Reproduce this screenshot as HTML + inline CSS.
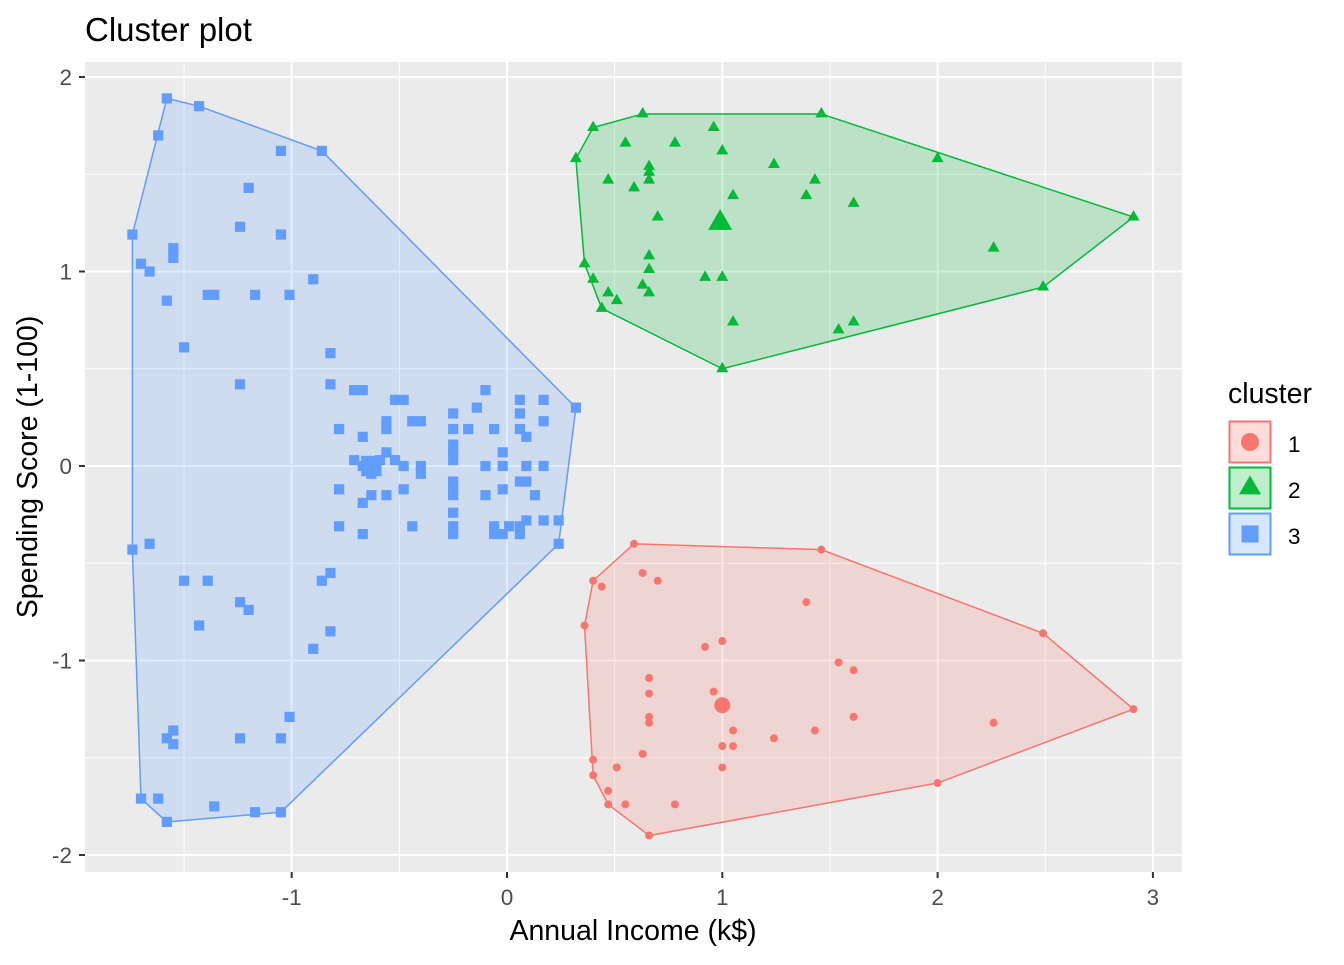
<!DOCTYPE html>
<html><head><meta charset="utf-8"><style>
body{margin:0;background:#fff}
svg text{font-family:"Liberation Sans",Arial,sans-serif}
</style></head><body>
<svg id="chart" width="1344" height="960">
<text x="85" y="41" font-size="33" fill="#000">Cluster plot</text>
<rect x="85" y="62" width="1097" height="810" fill="#ebebeb"/>
<g id="grid"></g>
<g id="hulls"></g>
<g id="points"></g>
<g id="axes"></g>
<text x="633" y="940" font-size="28.5" text-anchor="middle">Annual Income (k$)</text>
<text transform="translate(37,467) rotate(-90)" font-size="28.5" text-anchor="middle">Spending Score (1-100)</text>
<g id="legend">
<text x="1228" y="403" font-size="28.5">cluster</text>
</g>
</svg>
<script>
const xTicks=[-1,0,1,2,3];
const yTicks=[-2,-1,0,1,2];
const clusters=["1","2","3"];
const colors=["#F8766D","#00BA38","#619CFF"];
const c1x=[0.59,1.46,2.49,2.91,2.00,0.66,0.47,0.40,0.36,0.40,0.44,0.63,0.70,1.00,0.92,1.39,1.54,1.61,1.61,2.26,1.43,1.24,1.05,1.00,1.05,1.00,0.96,0.66,0.66,0.66,0.66,0.63,0.40,0.51,0.47,0.55,0.78];
const c1y=[-0.40,-0.43,-0.86,-1.25,-1.63,-1.90,-1.74,-1.51,-0.82,-0.59,-0.62,-0.55,-0.59,-0.90,-0.93,-0.70,-1.01,-1.05,-1.29,-1.32,-1.36,-1.40,-1.36,-1.44,-1.44,-1.55,-1.16,-1.09,-1.17,-1.29,-1.32,-1.48,-1.59,-1.55,-1.67,-1.74,-1.74];
const c2x=[0.32,0.40,0.63,1.46,2.00,2.91,2.49,1.00,0.44,0.36,0.40,0.47,0.51,0.47,0.55,0.59,0.66,0.66,0.66,0.78,0.70,0.66,0.66,0.63,0.66,0.96,1.00,1.05,0.92,1.00,1.05,1.24,1.39,1.43,1.61,1.54,1.61,2.26];
const c2y=[1.58,1.74,1.81,1.81,1.58,1.28,0.92,0.50,0.81,1.04,0.96,0.89,0.85,1.47,1.66,1.43,1.54,1.51,1.47,1.66,1.28,1.08,1.01,0.93,0.89,1.74,1.62,1.39,0.97,0.97,0.74,1.55,1.39,1.47,1.35,0.70,0.74,1.12];
const c3x=[-1.58,-1.43,-0.86,-1.62,-1.05,-1.20,-1.74,-1.70,-1.66,-1.55,-1.55,-1.24,-1.05,-1.58,-1.39,-1.36,-1.17,-1.01,-0.90,-1.50,-1.24,-0.82,-0.82,-0.71,-0.67,-0.52,-0.48,-0.25,-0.10,-0.14,0.06,0.17,0.32,-0.78,-0.67,-0.56,-0.56,-0.44,-0.40,-0.25,-0.18,-0.06,0.06,0.06,0.17,0.09,-0.71,-0.67,-0.63,-0.59,-0.56,-0.52,-0.48,-0.48,-0.40,-0.25,-0.25,-0.25,-0.02,-0.02,-0.10,0.09,0.17,-0.78,-0.63,-0.67,-0.63,-0.56,-0.40,-0.25,-0.25,-0.25,-0.10,-0.02,0.06,0.09,0.13,-0.78,-0.67,-0.44,-0.25,-0.25,-0.25,-0.06,-0.02,0.01,0.06,0.09,0.17,0.24,0.06,-0.06,0.24,-1.74,-1.66,-1.50,-1.39,-1.43,-1.24,-1.20,-0.86,-0.82,-0.82,-0.90,-1.01,-1.05,-1.24,-1.58,-1.55,-1.55,-1.70,-1.62,-1.58,-1.36,-1.17,-1.05];
const c3y=[1.89,1.85,1.62,1.70,1.62,1.43,1.19,1.04,1.00,1.07,1.12,1.23,1.19,0.85,0.88,0.88,0.88,0.88,0.96,0.61,0.42,0.58,0.42,0.39,0.39,0.34,0.34,0.27,0.39,0.30,0.34,0.34,0.30,0.19,0.15,0.23,0.19,0.23,0.23,0.19,0.19,0.19,0.27,0.19,0.23,0.15,0.03,0,0,0.03,0.07,0.03,0,-0.12,0,0.03,0.11,0.07,0.07,0,0,0,0,-0.12,-0.04,-0.19,-0.15,-0.15,-0.04,-0.08,-0.12,-0.15,-0.15,-0.12,-0.08,-0.08,-0.15,-0.31,-0.35,-0.31,-0.24,-0.31,-0.35,-0.31,-0.35,-0.31,-0.31,-0.28,-0.28,-0.28,-0.35,-0.35,-0.40,-0.43,-0.40,-0.59,-0.59,-0.82,-0.70,-0.74,-0.59,-0.55,-0.85,-0.94,-1.29,-1.40,-1.40,-1.40,-1.36,-1.43,-1.71,-1.71,-1.83,-1.75,-1.78,-1.78];
const centX=[1.00,0.99,-0.63];
const centY=[-1.23,1.25,0.00];

const NS="http://www.w3.org/2000/svg";
const X=v=>507+215.3*v, Y=v=>466-194.5*v;
function mk(tag,attrs,parent){const e=document.createElementNS(NS,tag);for(const k in attrs)e.setAttribute(k,attrs[k]);parent.appendChild(e);return e;}
const grid=document.getElementById('grid'),axes=document.getElementById('axes');
for(let i=0;i<xTicks.length;i++){
  const t=xTicks[i];
  if(i>0){const m=mk('line',{x1:X(t-0.5),x2:X(t-0.5),y1:62,y2:872,stroke:'#fff','stroke-width':1},grid);
  }
  const g=mk('line',{x1:X(t),x2:X(t),y1:62,y2:872,stroke:'#fff','stroke-width':2},grid);
  
  mk('line',{x1:X(t),x2:X(t),y1:872,y2:878,stroke:'#333','stroke-width':2},axes);
  const tx=mk('text',{x:X(t),y:905,'font-size':22.5,'text-anchor':'middle',fill:'#4d4d4d'},axes);tx.textContent=t;
  
}
{const m=mk('line',{x1:X(-1.5),x2:X(-1.5),y1:62,y2:872,stroke:'#fff','stroke-width':1},grid);
}
for(let i=0;i<yTicks.length;i++){
  const t=yTicks[i];
  if(i>0){const m=mk('line',{x1:85,x2:1182,y1:Y(t-0.5),y2:Y(t-0.5),stroke:'#fff','stroke-width':1},grid);
  }
  const g=mk('line',{x1:85,x2:1182,y1:Y(t),y2:Y(t),stroke:'#fff','stroke-width':2},grid);
  
  mk('line',{x1:79,x2:85,y1:Y(t),y2:Y(t),stroke:'#333','stroke-width':2},axes);
  const tx=mk('text',{x:72,y:Y(t)+8,'font-size':22.5,'text-anchor':'end',fill:'#4d4d4d'},axes);tx.textContent=t;
  
}
function hull(xs,ys){
  const p=xs.map((x,i)=>[X(x),Y(ys[i])]).sort((a,b)=>a[0]-b[0]||a[1]-b[1]);
  const cr=(o,a,b)=>(a[0]-o[0])*(b[1]-o[1])-(a[1]-o[1])*(b[0]-o[0]);
  const lo=[],up=[];
  for(const q of p){while(lo.length>=2&&cr(lo[lo.length-2],lo[lo.length-1],q)<=0)lo.pop();lo.push(q);}
  for(const q of p.slice().reverse()){while(up.length>=2&&cr(up[up.length-2],up[up.length-1],q)<=0)up.pop();up.push(q);}
  return lo.slice(0,-1).concat(up.slice(0,-1));
}
const hg=document.getElementById('hulls'),pg=document.getElementById('points');
const sets=[[c1x,c1y],[c2x,c2y],[c3x,c3y]];
function shape(k,x,y,s,parent){
  let e;
  if(k===0)e=mk('circle',{cx:x,cy:y,r:s,fill:colors[k]},parent);
  else if(k===1)e=mk('polygon',{points:`${x},${y-s*1.15} ${x-s},${y+s*0.58} ${x+s},${y+s*0.58}`,fill:colors[k]},parent);
  else e=mk('rect',{x:x-s*0.85,y:y-s*0.85,width:s*1.7,height:s*1.7,fill:colors[k]},parent);
  return e;
}
sets.forEach((s,k)=>{
  const h=hull(s[0],s[1]);
  const poly=mk('polygon',{points:h.map(p=>p.join(',')).join(' '),fill:colors[k],'fill-opacity':0.2,stroke:colors[k],'stroke-width':1.5},hg);
  
  
});
sets.forEach((s,k)=>{
  const sz=[4,6,6][k];
  for(let i=0;i<s[0].length;i++){
    const e=shape(k,X(s[0][i]),Y(s[1][i]),sz,pg);
    
    
  }
  const c=shape(k,X(centX[k]),Y(centY[k]),sz*2,pg);
  
  
});
const lg=document.getElementById('legend');
clusters.forEach((c,k)=>{
  const y0=421+46*k;
  const b=mk('rect',{x:1229.5,y:y0+0.5,width:41,height:41,fill:colors[k],'fill-opacity':0.25,stroke:colors[k],'stroke-width':2},lg);
  
  
  const s=shape(k,1250,y0+21,[9,11,10][k],lg);
  
  
  const t=mk('text',{x:1288,y:y0+31,'font-size':22.5,fill:'#000'},lg);t.textContent=c;
  
  
});
</script>
</body></html>
